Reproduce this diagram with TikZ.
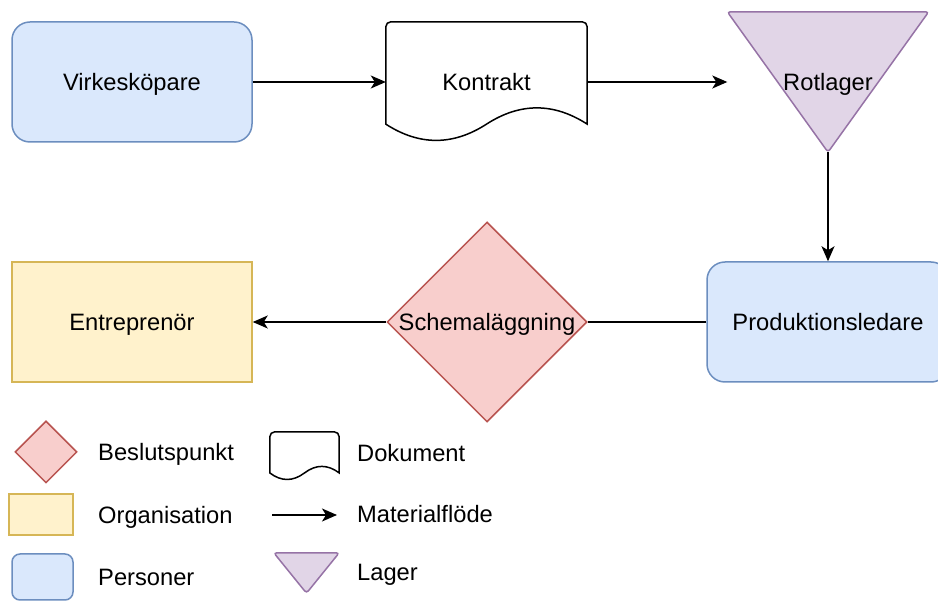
\documentclass[tikz,border=0pt]{standalone}
\usepackage{fontspec}
\setmainfont{Liberation Sans}
\usetikzlibrary{calc}
\usetikzlibrary{positioning}
\usetikzlibrary{shapes.geometric}
\usetikzlibrary{arrows.meta}
\usetikzlibrary{backgrounds}

\definecolor{persfill}{HTML}{DAE8FC}
\definecolor{persline}{HTML}{6C8EBF}
\definecolor{orgfill}{HTML}{FFF2CC}
\definecolor{orgline}{HTML}{D6B656}
\definecolor{besfill}{HTML}{F8CECC}
\definecolor{besline}{HTML}{B85450}
\definecolor{lagfill}{HTML}{E1D5E7}
\definecolor{lagline}{HTML}{9673A6}

% outlines traced from the anchors of a plain box node
\newcommand{\lagerform}[1]{%
  \begin{scope}[on background layer]
    \draw[draw=lagline, fill=lagfill, line width=1.5pt, rounded corners=3pt]
      (#1.north west) -- (#1.north east) -- (#1.south) -- cycle;
  \end{scope}}
\newcommand{\dokform}[1]{%
  \draw[line width=1.5pt] let \p1=(#1.north west), \p2=(#1.south east),
      \n1={\x2-\x1}, \n2={\y1-\y2} in
    (\x1,\y2+0.15*\n2) [rounded corners=5pt] -- (\x1,\y1) -- (\x2,\y1)
    [sharp corners] -- (\x2,\y2+0.15*\n2)
    .. controls (\x2-\n1/6,\y2+0.33*\n2) and (\x1+2*\n1/3,\y2+0.33*\n2) .. (\x1+\n1/2,\y2+0.15*\n2)
    .. controls (\x1+\n1/3,\y2-0.03*\n2) and (\x1+\n1/6,\y2-0.03*\n2) .. (\x1,\y2+0.15*\n2) -- cycle;}

\begin{document}
\begin{tikzpicture}[
      x=1pt, y=-1pt, >={Stealth[length=15pt,width=13pt,inset=4pt]},
      font=\fontsize{23.7}{28}\selectfont,
      every node/.append style={text depth=0pt},
      person/.style={rectangle, rounded corners=18pt, draw=persline, fill=persfill,
        line width=1.5pt, minimum width=240pt, minimum height=120pt, inner sep=0pt},
      org/.style={rectangle, draw=orgline, fill=orgfill, line width=1.5pt,
        minimum width=240pt, minimum height=120pt, inner sep=0pt},
      beslut/.style={diamond, draw=besline, fill=besfill, line width=1.5pt,
        minimum width=200pt, minimum height=200pt, inner sep=0pt},
      hull/.style={rectangle, inner sep=0pt},
      flow/.style={->, line width=1.5pt},
      legtext/.style={anchor=west, inner sep=0pt}]
      \useasboundingbox (0,0) rectangle (938,601);
      % main flow
      \node[person] (vir) at (132,82) {Virkesköpare};
      \node[hull, minimum width=201pt, minimum height=120pt] (kon) at (486.5,82) {Kontrakt};
      \node[hull, minimum width=201pt, minimum height=140pt] (rot) at (828,82) {Rotlager};
      \node[person, minimum width=242pt] (prod) at (828,322) {Produktionsledare};
      \node[beslut, label={center:Schemaläggning}] (sch) at (487,322) {};
      \node[org] (ent) at (132,322) {Entreprenör};
      \dokform{kon}
      \lagerform{rot}
      \draw[flow] (vir) -- (kon);
      \draw[flow] (kon) -- (rot);
      \draw[flow] (rot) -- (prod);
      \draw[line width=1.5pt] (prod) -- (sch);
      \draw[flow] (sch) -- (ent);
      % legend
      \node[beslut, minimum width=62pt, minimum height=62pt] (lbes) at (46,452) {};
      \node[org, minimum width=64pt, minimum height=41pt] (lorg) at (41,514.5) {};
      \node[person, minimum width=61pt, minimum height=46pt, rounded corners=8pt] (lpers) at (42.5,577) {};
      \node[hull, minimum width=69pt, minimum height=48pt] (ldok) at (304.5,456) {};
      \dokform{ldok}
      \coordinate (lflow1) at (272,515);
      \coordinate (lflow2) at (337,515);
      \draw[flow] (lflow1) -- (lflow2);
      \node[hull, minimum width=65pt, minimum height=40pt] (llag) at (306.5,573) {};
      \lagerform{llag}
      \node[legtext] (tbes) at (98,452) {Beslutspunkt};
      \node[legtext] (torg) at (98,515) {Organisation};
      \node[legtext] (tpers) at (98,577) {Personer};
      \node[legtext] (tdok) at (357,453) {Dokument};
      \node[legtext] (tflow) at (357,514) {Materialflöde};
      \node[legtext] (tlag) at (357,572) {Lager};
    \end{tikzpicture}
\end{document}
